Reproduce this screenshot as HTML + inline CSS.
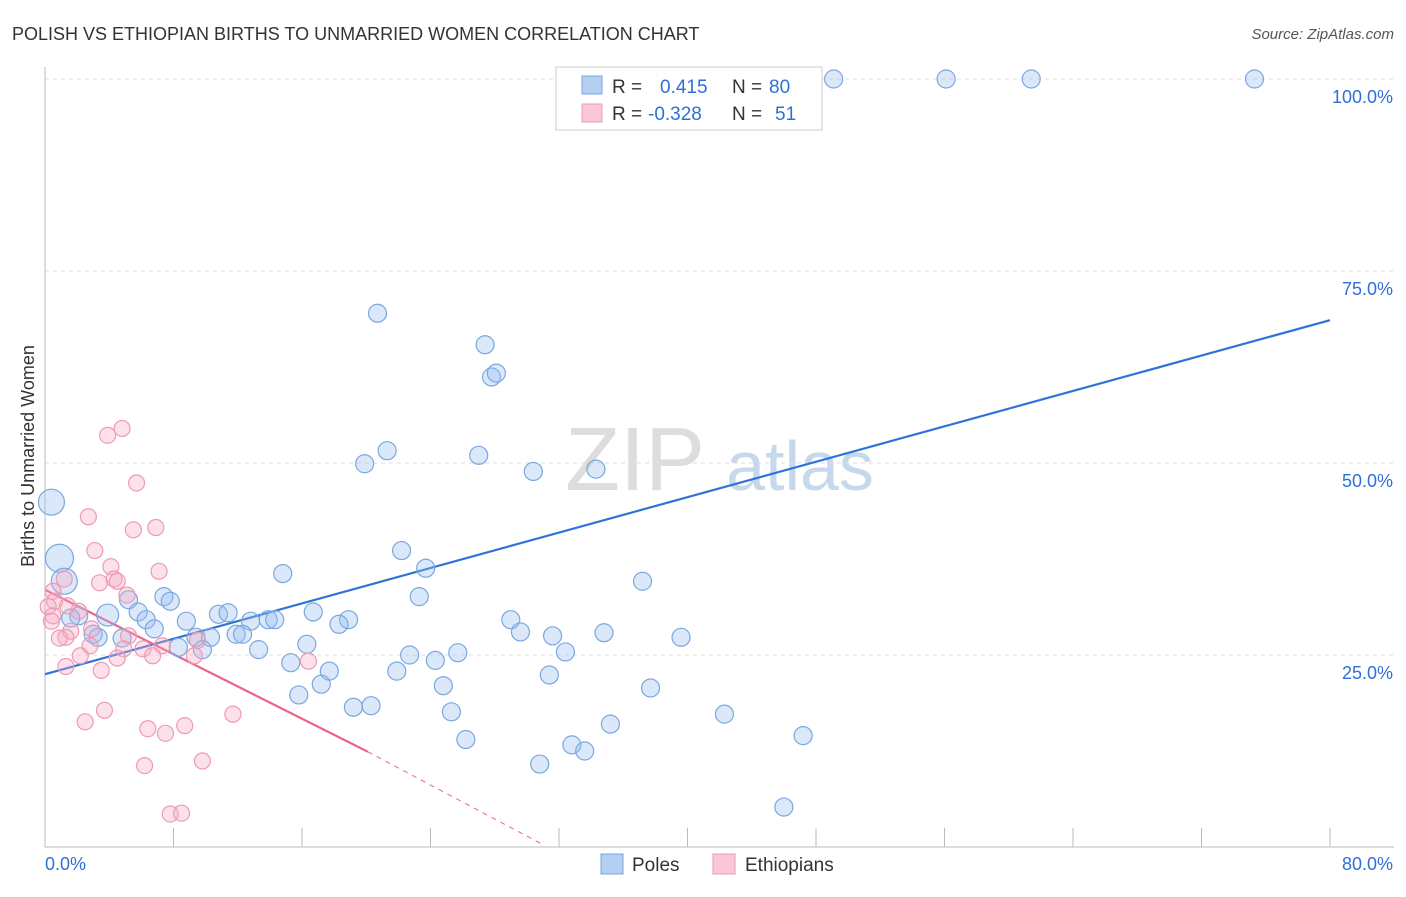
<!DOCTYPE html>
<html><head><meta charset="utf-8"><style>
body{margin:0;background:#fff;font-family:"Liberation Sans",sans-serif}
svg text{font-family:"Liberation Sans",sans-serif}
</style></head><body>
<svg id="c" width="1406" height="892" viewBox="0 0 1406 892">
<text x="12" y="40" font-size="18" fill="#333">POLISH VS ETHIOPIAN BIRTHS TO UNMARRIED WOMEN CORRELATION CHART</text>
<text x="1394" y="39" font-size="15" fill="#555" text-anchor="end" font-style="italic">Source: ZipAtlas.com</text>
<text x="34" y="456" font-size="18" fill="#333" text-anchor="middle" transform="rotate(-90 34 456)">Births to Unmarried Women</text>
<g><text x="635" y="490" font-size="90" fill="#ddd" text-anchor="middle" font-family="Liberation Serif">ZIP</text><text x="800" y="490" font-size="70" fill="#c8d8ec" text-anchor="middle">atlas</text></g>
<g id="grid"></g><g id="axes"></g><g id="lines"></g><g id="pts"></g>
<g>
<rect x="556" y="67" width="266" height="63" fill="#fff" stroke="#ccc"/>
<rect x="582" y="76" width="20" height="18" fill="#b3cff2" stroke="#7aa7e0"/>
<rect x="582" y="104" width="20" height="18" fill="#f9c7d6" stroke="#ee9ab3"/>
<text x="612" y="93" font-size="19" fill="#333">R = </text><text x="660" y="93" font-size="19" fill="#2f6fd6">0.415</text>
<text x="732" y="93" font-size="19" fill="#333">N = </text><text x="769" y="93" font-size="19" fill="#2f6fd6">80</text>
<text x="612" y="120" font-size="19" fill="#333">R = </text><text x="648" y="120" font-size="19" fill="#2f6fd6">-0.328</text>
<text x="732" y="120" font-size="19" fill="#333">N = </text><text x="775" y="120" font-size="19" fill="#2f6fd6">51</text>
</g>
<g>
<rect x="601" y="854" width="22" height="20" fill="#b3cff2" stroke="#7aa7e0"/>
<text x="632" y="871" font-size="19" fill="#333">Poles</text>
<rect x="713" y="854" width="22" height="20" fill="#f9c7d6" stroke="#ee9ab3"/>
<text x="745" y="871" font-size="19" fill="#333">Ethiopians</text>
</g>
</svg>
<script>
const xTicks=[0,8,16,24,32,40,48,56,64,72,80];
const yTicks=[25,50,75,100];
const polesX=[36.1,49.1,56.1,61.4,75.3,20.7,27.4,27.8,28.1,21.3,19.9,27.0,30.4,34.3,0.4,0.9,1.2,22.2,23.7,14.8,23.3,37.2,7.4,7.8,5.2,5.8,3.9,2.1,1.6,3.0,3.3,4.8,6.3,6.8,8.8,10.8,11.4,13.9,14.3,12.8,16.7,18.9,18.3,9.4,10.3,11.9,12.3,9.8,8.3,13.3,16.3,15.3,17.7,17.2,21.9,22.7,24.3,25.7,29.0,29.6,31.6,32.4,34.8,39.6,24.8,31.4,37.7,15.8,19.2,20.3,25.3,26.2,35.2,42.3,47.2,32.8,33.6,30.8,46.0];
const polesY=[100,100,100,100,100,69.5,65.4,61.2,61.7,51.6,49.9,51.0,48.9,49.2,44.9,37.6,34.6,38.6,36.3,35.6,32.6,34.6,32.6,32.0,32.2,30.6,30.2,30.1,29.8,27.7,27.3,27.2,29.6,28.4,29.4,30.3,30.5,29.6,29.6,29.4,30.6,29.6,29.0,27.3,27.3,27.7,27.7,25.7,26.0,25.7,26.4,24.0,22.9,21.2,22.9,25.0,24.3,25.3,29.6,28.0,27.5,25.4,27.9,27.3,21.0,22.4,20.7,19.8,18.2,18.4,17.6,14.0,16.0,17.3,14.5,13.3,12.5,10.8,5.2];
const polesR=[9,9,9,9,9,9,9,9,9,9,9,9,9,9,13,14,13,9,9,9,9,9,9,9,9,9,11,9,9,9,9,9,9,9,9,9,9,9,9,9,9,9,9,9,9,9,9,9,9,9,9,9,9,9,9,9,9,9,9,9,9,9,9,9,9,9,9,9,9,9,9,9,9,9,9,9,9,9,9];
const ethX=[4.8,3.9,5.7,2.7,5.5,6.9,3.1,4.1,7.1,4.3,3.4,1.2,0.5,4.5,5.1,0.6,0.2,2.1,1.4,0.5,0.4,2.9,1.6,1.3,0.9,2.8,5.2,6.1,7.3,9.5,4.9,2.2,4.5,6.7,9.3,16.4,1.3,3.5,11.7,3.7,2.5,6.4,8.7,7.5,6.2,9.8,7.8,8.5];
const ethY=[54.5,53.6,47.4,43.0,41.3,41.6,38.6,36.5,35.9,34.9,34.4,34.9,33.3,34.6,32.8,32.0,31.3,30.7,31.4,30.1,29.4,28.4,28.1,27.3,27.2,26.2,27.5,25.8,26.2,26.9,25.8,24.9,24.6,24.9,24.9,24.2,23.5,23.0,17.3,17.8,16.3,15.4,15.8,14.8,10.6,11.2,4.3,4.4];
const X=v=>45+v*(1285/80), Y=v=>847-v*7.68;
const NS='http://www.w3.org/2000/svg';
function mk(p,t,a){const e=document.createElementNS(NS,t);for(const k in a)e.setAttribute(k,a[k]);p.appendChild(e);return e;}
const grid=document.getElementById('grid'),axes=document.getElementById('axes'),lines=document.getElementById('lines'),pts=document.getElementById('pts');
yTicks.forEach(t=>{const l=mk(grid,'line',{x1:45,x2:1394,y1:Y(t),y2:Y(t),stroke:'#ddd','stroke-dasharray':'4,4'});


const tx=mk(axes,'text',{x:1393,y:Y(t)+24,'font-size':18,fill:'#2f6fd6','text-anchor':'end'});tx.textContent=t.toFixed(1)+'%';

});
const ax=mk(axes,'line',{x1:45,x2:1394,y1:847,y2:847,stroke:'#bbb'});


const ay=mk(axes,'line',{x1:45,x2:45,y1:67,y2:847,stroke:'#bbb'});


xTicks.forEach(t=>{const l=mk(axes,'line',{x1:X(t),x2:X(t),y1:828,y2:847,stroke:'#bbb'});

});
[[0,'0.0%','start',45],[80,'80.0%','end',1393]].forEach(d=>{const tx=mk(axes,'text',{x:d[3],y:870,'font-size':18,fill:'#2f6fd6','text-anchor':d[2]});tx.textContent=d[1];

});
// points
polesX.forEach((v,i)=>{const c=mk(pts,'circle',{cx:X(v),cy:Y(polesY[i]),r:polesR[i]||9,fill:'rgba(150,190,240,0.35)',stroke:'#7aa7e0','stroke-width':1.2});

});
ethX.forEach((v,i)=>{const c=mk(pts,'circle',{cx:X(v),cy:Y(ethY[i]),r:8,fill:'rgba(245,170,195,0.35)',stroke:'#ee9ab3','stroke-width':1.2});

});
// trend lines
const bl=mk(lines,'line',{x1:X(0),y1:Y(22.5),x2:X(80),y2:Y(68.6),stroke:'#2f73d9','stroke-width':2.2});


const pl=mk(lines,'line',{x1:X(0),y1:Y(33.5),x2:X(20.1),y2:Y(12.4),stroke:'#e8668e','stroke-width':2.2});


const pd=mk(lines,'line',{x1:X(20.1),y1:Y(12.4),x2:X(31.1),y2:Y(0.2),stroke:'#e8668e','stroke-width':1,'stroke-dasharray':'5,5'});


</script>
</body></html>
